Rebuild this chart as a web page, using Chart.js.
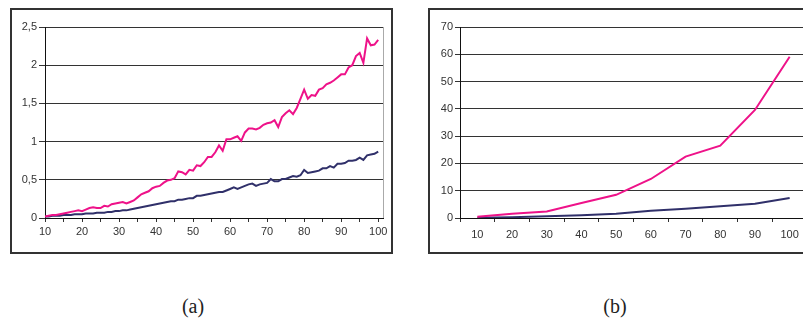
<!DOCTYPE html>
<html>
<head>
<meta charset="utf-8">
<script src="https://cdn.jsdelivr.net/npm/chart.js@4/dist/chart.umd.min.js"></script>
<style>
  html, body { margin: 0; padding: 0; background: #fff; width: 803px; height: 321px; overflow: hidden; }
  .box { position: absolute; border: 2px solid #333; box-sizing: border-box; }
  .box canvas { position: absolute; left: 0; top: 0; }
  .cap { position: absolute; font-family: "Liberation Serif", serif; font-size: 20px; color: #222; transform: translateX(-50%); }
</style>
</head>
<body>
<div class="box" id="boxA" style="left:10px; top:8px; width:383px; height:246px;">
  <canvas id="chartA" width="379" height="242"></canvas>
</div>
<div class="box" id="boxB" style="left:428px; top:8px; width:404px; height:246px;">
  <canvas id="chartB" width="400" height="242"></canvas>
</div>
<div class="cap" style="left:193px; top:295px;">(a)</div>
<div class="cap" style="left:615px; top:295px;">(b)</div>

<script>
// ---- data: chart (a), one point per size 10..100 ----
const sizesA = [];
for (let n = 10; n <= 100; n++) sizesA.push(n);

const pinkA = [
  0.02, 0.03, 0.04, 0.04, 0.05, 0.06, 0.07, 0.08, 0.09, 0.10,
  0.09, 0.11, 0.13, 0.14, 0.13, 0.13, 0.16, 0.15, 0.18, 0.19,
  0.20, 0.21, 0.19, 0.21, 0.23, 0.27, 0.31, 0.33, 0.35, 0.39,
  0.41, 0.42, 0.46, 0.49, 0.50, 0.52, 0.61, 0.60, 0.57, 0.63,
  0.62, 0.69, 0.68, 0.73, 0.80, 0.80, 0.86, 0.95, 0.88, 1.03,
  1.03, 1.05, 1.07, 1.01, 1.12, 1.17, 1.17, 1.16, 1.18, 1.22,
  1.24, 1.25, 1.28, 1.19, 1.32, 1.37, 1.41, 1.36, 1.44, 1.56,
  1.68, 1.56, 1.61, 1.60, 1.68, 1.70, 1.75, 1.77, 1.80, 1.84,
  1.88, 1.88, 1.97, 2.00, 2.12, 2.16, 2.03, 2.35, 2.26, 2.27,
  2.33
];

const navyA = [
  0.02, 0.02, 0.03, 0.03, 0.03, 0.04, 0.04, 0.04, 0.05, 0.05,
  0.05, 0.06, 0.06, 0.06, 0.07, 0.07, 0.07, 0.08, 0.08, 0.09,
  0.09, 0.10, 0.10, 0.11, 0.12, 0.13, 0.14, 0.15, 0.16, 0.17,
  0.18, 0.19, 0.20, 0.21, 0.22, 0.22, 0.24, 0.24, 0.25, 0.26,
  0.26, 0.29, 0.29, 0.30, 0.31, 0.32, 0.33, 0.34, 0.34, 0.36,
  0.38, 0.40, 0.38, 0.40, 0.42, 0.44, 0.45, 0.42, 0.44, 0.45,
  0.46, 0.51, 0.48, 0.48, 0.51, 0.51, 0.53, 0.55, 0.54, 0.56,
  0.63, 0.59, 0.60, 0.61, 0.62, 0.65, 0.65, 0.68, 0.66, 0.71,
  0.71, 0.72, 0.75, 0.75, 0.76, 0.79, 0.76, 0.82, 0.83, 0.84,
  0.87
];

// ---- data: chart (b) ----
const sizesB = ['10', '20', '30', '40', '50', '60', '70', '80', '90', '100'];
const pinkB = [0.5, 1.6, 2.4, 5.5, 8.5, 14.3, 22.5, 26.5, 39.6, 59.1];
const navyB = [0.1, 0.3, 0.6, 1.0, 1.6, 2.7, 3.4, 4.3, 5.2, 7.3];

const PINK = '#ee1289';
const NAVY = '#30306a';
const GRID = '#333';
const TXT = '#333';

Chart.defaults.font.family = '"Liberation Sans", Arial, sans-serif';
Chart.defaults.font.size = 11;
Chart.defaults.color = TXT;

// light frame on the right side of the plot area
const framePlugin = {
  id: 'frame',
  afterDraw(chart) {
    const a = chart.chartArea, ctx = chart.ctx;
    ctx.save();
    ctx.strokeStyle = '#aaa';
    ctx.lineWidth = 1;
    ctx.beginPath();
    ctx.moveTo(Math.round(a.right) + 0.5, a.top);
    ctx.lineTo(Math.round(a.right) + 0.5, a.bottom);
    ctx.stroke();
    ctx.restore();
  }
};

function lineSet(data, color) {
  return {
    data: data,
    borderColor: color,
    borderWidth: 2,
    pointRadius: 0,
    tension: 0,
    fill: false
  };
}

new Chart(document.getElementById('chartA'), {
  type: 'line',
  data: {
    datasets: [
      lineSet(sizesA.map((x, i) => ({ x: x, y: pinkA[i] })), PINK),
      lineSet(sizesA.map((x, i) => ({ x: x, y: navyA[i] })), NAVY)
    ]
  },
  options: {
    responsive: false,
    animation: false,
    layout: { padding: { left: 0, right: 8, top: 17, bottom: 0 } },
    plugins: { legend: { display: false }, tooltip: { enabled: false } },
    scales: {
      x: {
        type: 'linear',
        min: 10,
        max: 101.3,
        afterBuildTicks: s => { s.ticks = s.ticks.filter(t => t.value % 5 === 0); },
        afterFit: s => { s.height = 34; },
        ticks: {
          stepSize: 5,
          includeBounds: false,
          autoSkip: false,
          maxRotation: 0,
          padding: 3,
          callback: v => (v % 10 === 0 ? String(v) : '')
        },
        grid: { drawOnChartArea: false, tickLength: 4, color: GRID },
        border: { color: '#111', width: 1 }
      },
      y: {
        min: 0,
        max: 2.5,
        afterFit: s => { s.width = 33; },
        ticks: {
          stepSize: 0.5,
          padding: 2,
          callback: v => String(v).replace('.', ',')
        },
        grid: { color: GRID, tickLength: 6 },
        border: { color: '#111', width: 1 }
      }
    }
  },
  plugins: [framePlugin]
});

new Chart(document.getElementById('chartB'), {
  type: 'line',
  data: {
    labels: sizesB,
    datasets: [lineSet(pinkB, PINK), lineSet(navyB, NAVY)]
  },
  options: {
    responsive: false,
    animation: false,
    layout: { padding: { left: 0, right: 23, top: 17, bottom: 0 } },
    plugins: { legend: { display: false }, tooltip: { enabled: false } },
    scales: {
      x: {
        type: 'category',
        offset: true,
        afterFit: s => { s.height = 34; },
        ticks: { maxRotation: 0, autoSkip: false, padding: 6 },
        grid: { offset: true, drawOnChartArea: false, tickLength: 4, color: GRID },
        border: { color: '#111', width: 1 }
      },
      y: {
        min: 0,
        max: 70,
        afterFit: s => { s.width = 30; },
        ticks: { stepSize: 10, padding: 2 },
        grid: { color: GRID, tickLength: 5 },
        border: { color: '#111', width: 1 }
      }
    }
  }
});
</script>
</body>
</html>
